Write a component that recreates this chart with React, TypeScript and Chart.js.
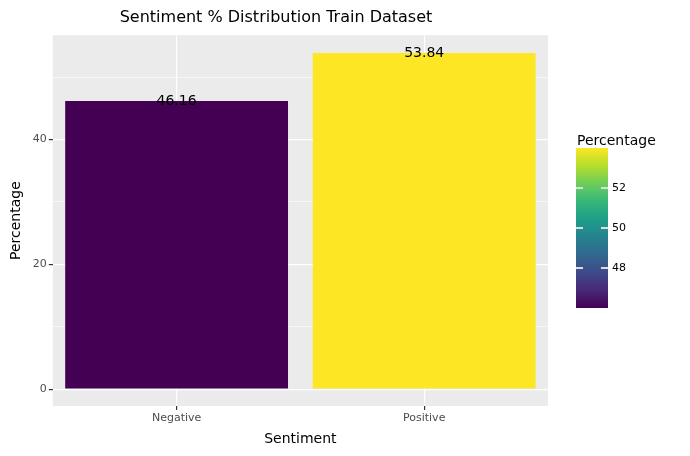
import { useEffect, useRef } from "react";
import { Chart, registerables } from "chart.js";
Chart.register(...registerables);

const categories = ["Negative", "Positive"];
const percentages = [46.16, 53.84];
const barColors = ["#440154", "#FDE725"];
const legendTicks = [48, 50, 52];
const viridis = ["#440154", "#482878", "#3E4A89", "#31688E", "#26828E", "#1F9E89", "#35B779", "#6DCD59", "#B4DE2C", "#FDE725"];

const FONT = "'DejaVu Sans', sans-serif";

const App = () => {
  const canvasRef = useRef<HTMLCanvasElement>(null);

  useEffect(() => {
    document.body.style.margin = "0";
    const panelBg = {
      id: "panelBg",
      beforeDraw: (chart: any) => {
        const { ctx, chartArea: a } = chart;
        ctx.save();
        ctx.fillStyle = "#EBEBEB";
        ctx.fillRect(a.left, a.top, a.right - a.left, a.bottom - a.top);
        ctx.restore();
      },
    };
    const labels = {
      id: "labels",
      afterDatasetsDraw: (chart: any) => {
        const ctx = chart.ctx;
        const meta = chart.getDatasetMeta(0);
        ctx.save();
        ctx.font = `14px ${FONT}`;
        ctx.fillStyle = "#000";
        ctx.textAlign = "center";
        ctx.textBaseline = "middle";
        meta.data.forEach((bar: any, i: number) => {
          ctx.fillText(percentages[i].toFixed(2), bar.x, bar.y);
        });
        ctx.restore();
      },
    };
    const colorbar = {
      id: "colorbar",
      afterDraw: (chart: any) => {
        const ctx = chart.ctx;
        const x = 576, w = 32, top = 148, bottom = 308;
        const lo = Math.min(...percentages), hi = Math.max(...percentages);
        const yOf = (v: number) => bottom - ((v - lo) / (hi - lo)) * (bottom - top - 6) - 3;
        ctx.save();
        const g = ctx.createLinearGradient(0, bottom, 0, top);
        viridis.forEach((c, i) => g.addColorStop(i / (viridis.length - 1), c));
        ctx.fillStyle = g;
        ctx.fillRect(x, top, w, bottom - top);
        ctx.font = `14px ${FONT}`;
        ctx.fillStyle = "#000";
        ctx.textBaseline = "alphabetic";
        ctx.fillText("Percentage", 577, 145);
        ctx.font = `11px ${FONT}`;
        ctx.textBaseline = "middle";
        ctx.strokeStyle = "#DDDDDD";
        ctx.lineWidth = 2;
        legendTicks.forEach((v) => {
          const y = yOf(v);
          ctx.beginPath();
          ctx.moveTo(x, y); ctx.lineTo(x + 7, y);
          ctx.moveTo(x + w - 7, y); ctx.lineTo(x + w, y);
          ctx.stroke();
          ctx.fillText(String(v), 612, y);
        });
        ctx.restore();
      },
    };

    const chart = new Chart(canvasRef.current!, {
      type: "bar",
      data: {
        labels: categories,
        datasets: [{ data: percentages, backgroundColor: barColors, barPercentage: 0.9, categoryPercentage: 1 }],
      },
      options: {
        animation: false,
        responsive: false,
        layout: { padding: { top: 0, right: 142, left: 4, bottom: 4 } },
        plugins: {
          legend: { display: false },
          tooltip: { enabled: false },
          title: {
            display: true,
            text: "Sentiment % Distribution Train Dataset",
            color: "#000",
            font: { family: FONT, size: 16, weight: "normal" },
            padding: { top: 8, bottom: 8 },
          },
        },
        scales: {
          x: {
            grid: {
              offset: false,
              color: "#FFFFFF",
              lineWidth: 1.2,
              tickColor: "#333",
              tickLength: 4,
            },
            border: { display: false },
            ticks: { color: "#4D4D4D", font: { family: FONT, size: 11 }, padding: 2 },
            title: { display: true, text: "Sentiment", color: "#000", font: { family: FONT, size: 14 }, padding: { top: 4 } },
          },
          y: {
            min: -2.7,
            max: 56.7,
            afterBuildTicks: (s: any) => {
              s.ticks = [0, 10, 20, 30, 40, 50].map((v) => ({ value: v }));
            },
            grid: {
              color: "#FFFFFF",
              lineWidth: (c: any) => (c.tick && c.tick.value % 20 === 0 ? 1.2 : 0.6),
              tickColor: (c: any) => (c.tick && c.tick.value % 20 === 0 ? "#333" : "rgba(0,0,0,0)"),
              tickLength: 4,
            },
            border: { display: false },
            ticks: {
              color: "#4D4D4D",
              font: { family: FONT, size: 11 },
              padding: 2,
              callback: (v: any) => (v % 20 === 0 ? String(v) : ""),
            },
            title: { display: true, text: "Percentage", color: "#000", font: { family: FONT, size: 14 }, padding: { bottom: 6 } },
          },
        },
      },
      plugins: [panelBg, labels, colorbar],
    });
    return () => chart.destroy();
  }, []);

  return (
    <div style={{ width: 690, height: 456, background: "#fff" }}>
      <canvas ref={canvasRef} width={690} height={456} />
    </div>
  );
};

export default App;
